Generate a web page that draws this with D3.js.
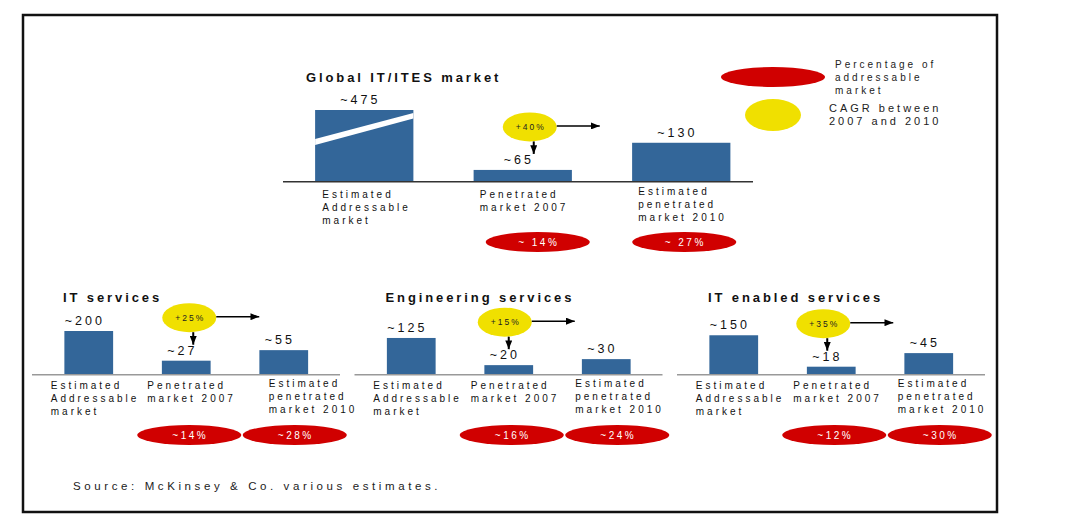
<!DOCTYPE html>
<html>
<head>
<meta charset="utf-8">
<script src="https://cdn.jsdelivr.net/npm/d3@7"></script>
<style>
  body { margin: 0; background: #fff; }
  svg text { font-family: "Liberation Sans", Arial, sans-serif; fill: #111; }
</style>
</head>
<body>
<script>
// market sizes in $ bn
const categories = ["addressable", "pen2007", "pen2010"];
const categoryLines = [["Estimated", "Addressable", "market"], ["Penetrated", "market 2007"], ["Estimated", "penetrated", "market 2010"]];

const globalValues = [475, 65, 130];
const globalShare = ["~ 14%", "~ 27%"];
const globalCagr = "+40%";

const segments = ["IT services", "Engineering services", "IT enabled services"];
const segAddressable = [200, 125, 150];
const segPen2007 = [27, 20, 18];
const segPen2010 = [55, 30, 45];
const segCagr = ["+25%", "+15%", "+35%"];
const segShare2007 = ["~14%", "~16%", "~12%"];
const segShare2010 = ["~28%", "~24%", "~30%"];

const legendShare = ["Percentage of", "addressable", "market"];
const legendCagr = ["CAGR between", "2007 and 2010"];
const sourceNote = "Source: McKinsey & Co. various estimates.";

const w = 1065;
const h = 516;
const BLUE = "#336699", RED = "#d00000", YELLOW = "#f0e000";

const svg = d3.select("body").append("svg").attr("width", w).attr("height", h);

svg.append("defs").append("marker")
  .attr("id", "arrow")
  .attr("viewBox", "0 0 10 8")
  .attr("refX", 10).attr("refY", 4)
  .attr("markerUnits", "userSpaceOnUse")
  .attr("markerWidth", 9).attr("markerHeight", 7)
  .attr("orient", "auto")
  .append("path").attr("d", "M0,0 L10,4 L0,8 Z").attr("fill", "#000");

// frame
svg.append("rect")
  .attr("x", 23).attr("y", 15).attr("width", 974).attr("height", 497)
  .attr("fill", "none").attr("stroke", "#111").attr("stroke-width", 2.5);

function drawPanel(p) {
  const x = d3.scaleBand().domain(categories).range(p.range)
    .paddingInner(p.pad).paddingOuter(p.pad / 2);
  const y = p.y;
  const mid = c => x(c) + x.bandwidth() / 2;
  const g = svg.append("g");

  g.append("text")
    .attr("x", p.titleX).attr("y", p.titleY)
    .style("font-size", "13px").style("font-weight", "bold").style("letter-spacing", "2.9px")
    .text(p.title);

  g.append("line")
    .attr("x1", p.lineX[0]).attr("x2", p.lineX[1])
    .attr("y1", p.base + 0.75).attr("y2", p.base + 0.75)
    .attr("stroke", p.lineColor).attr("stroke-width", 1.5);

  const data = categories.map((c, i) => ({ c, i, v: p.values[i], lines: categoryLines[i] }));

  g.selectAll("rect.bar").data(data).join("rect")
    .attr("class", "bar")
    .attr("x", d => x(d.c)).attr("width", x.bandwidth())
    .attr("y", d => p.base - y(d.v)).attr("height", d => y(d.v))
    .attr("fill", BLUE);

  // break stripe for bars beyond the scale
  data.filter(d => d.v > y.domain()[1]).forEach(d => {
    const x0 = x(d.c), x1 = x0 + x.bandwidth(), t = p.base - y(d.v);
    g.append("polygon")
      .attr("points", `${x0},${t + 29} ${x1},${t + 3} ${x1},${t + 8.5} ${x0},${t + 35}`)
      .attr("fill", "#fff");
  });

  g.selectAll("text.val").data(data).join("text")
    .attr("class", "val")
    .attr("x", d => mid(d.c) - 4).attr("y", d => p.base - y(d.v) - 6)
    .attr("text-anchor", "middle")
    .style("font-size", "12.5px").style("letter-spacing", "3px")
    .text(d => "~" + d.v);

  const lab = g.selectAll("text.cat").data(data).join("text")
    .attr("class", "cat")
    .attr("transform", d => `translate(${mid(d.c) + p.labDx[d.i]},${p.base + p.labDy[d.i]})`)
    .style("font-size", "10px").style("letter-spacing", "3px");
  lab.selectAll("tspan").data(d => d.lines).join("tspan")
    .attr("x", 0).attr("dy", (t, j) => (j ? 13 : 0)).text(t => t);

  // share of addressable market
  const shares = data.slice(1).map((d, k) => ({ ...d, s: p.shares[k], cx: mid(d.c) + p.shareDx[k] }));
  g.selectAll("ellipse.share").data(shares).join("ellipse")
    .attr("class", "share")
    .attr("cx", d => d.cx).attr("cy", p.base + 61).attr("rx", 52).attr("ry", 10)
    .attr("fill", RED);
  g.selectAll("text.share").data(shares).join("text")
    .attr("class", "share")
    .attr("x", d => d.cx + 1).attr("y", p.base + 65)
    .attr("text-anchor", "middle")
    .style("font-size", "10px").style("letter-spacing", "2.5px").style("fill", "#fff")
    .text(d => d.s);

  // CAGR bubble with arrows
  const d2 = data[1];
  const top2 = p.base - y(d2.v);
  const cx = mid(d2.c) + p.cagrDx, cy = top2 - 43;
  g.append("ellipse")
    .attr("cx", cx).attr("cy", cy).attr("rx", 27).attr("ry", 14.5).attr("fill", YELLOW);
  g.append("text")
    .attr("x", cx + 1).attr("y", cy + 3)
    .attr("text-anchor", "middle")
    .style("font-size", "8.5px").style("letter-spacing", "2px").style("fill", "#222")
    .text(p.cagr);
  g.append("line")
    .attr("x1", cx + 27).attr("x2", cx + 70).attr("y1", cy - 1).attr("y2", cy - 1)
    .attr("stroke", "#000").attr("stroke-width", 1.5).attr("marker-end", "url(#arrow)");
  g.append("line")
    .attr("x1", cx + 4).attr("x2", cx + 4).attr("y1", cy + 14.5).attr("y2", top2 - 16)
    .attr("stroke", "#000").attr("stroke-width", 2).attr("marker-end", "url(#arrow)");
}

// Global panel
drawPanel({
  title: "Global IT/ITES market", titleX: 306, titleY: 82,
  values: globalValues, shares: globalShare, cagr: globalCagr,
  range: [285, 760.5], pad: 0.38,
  y: d3.scaleLog().domain([49, 300]).range([0, 71]).clamp(true),
  base: 181, lineX: [283, 753], lineColor: "#333",
  labDx: [-42, -43, -43], labDy: [17, 17, 14],
  shareDx: [15, 3], cagrDx: 7
});

// Segment panels
const segX = d3.scaleBand().domain(segments).range([40, 1007.5]);
const segY = d3.scaleLog().domain([11, 200]).range([0, 43]).clamp(true);
const segLabDx = [[-38, -39, -15], [-38, -38, -31], [-38, -38, -31]];
const segCagrDx = [3, -4, -8];

segments.forEach((s, i) => {
  const x0 = segX(s);
  drawPanel({
    title: s, titleX: x0 + 23, titleY: 302,
    values: [segAddressable[i], segPen2007[i], segPen2010[i]],
    shares: [segShare2007[i], segShare2010[i]], cagr: segCagr[i],
    range: [x0, x0 + 292.5], pad: 0.5,
    y: segY,
    base: 374, lineX: [x0 - 8, x0 + 300], lineColor: "#999",
    labDx: segLabDx[i], labDy: [15, 15, 13],
    shareDx: [3, 11], cagrDx: segCagrDx[i]
  });
});

// Legend
const lg = svg.append("g");
lg.append("ellipse").attr("cx", 773).attr("cy", 77).attr("rx", 52).attr("ry", 10).attr("fill", RED);
lg.append("ellipse").attr("cx", 773).attr("cy", 115).attr("rx", 28).attr("ry", 16).attr("fill", YELLOW);
lg.append("text")
  .attr("transform", "translate(835,68)")
  .style("font-size", "10px").style("letter-spacing", "3px").style("fill", "#222")
  .selectAll("tspan").data(legendShare).join("tspan")
  .attr("x", 0).attr("dy", (t, j) => (j ? 13 : 0)).text(t => t);
lg.append("text")
  .attr("transform", "translate(829,112)")
  .style("font-size", "11px").style("letter-spacing", "3px").style("fill", "#222")
  .selectAll("tspan").data(legendCagr).join("tspan")
  .attr("x", 0).attr("dy", (t, j) => (j ? 13 : 0)).text(t => t);

svg.append("text")
  .attr("x", 73).attr("y", 490)
  .style("font-size", "11.5px").style("letter-spacing", "3.6px").style("fill", "#222")
  .text(sourceNote);
</script>
</body>
</html>
